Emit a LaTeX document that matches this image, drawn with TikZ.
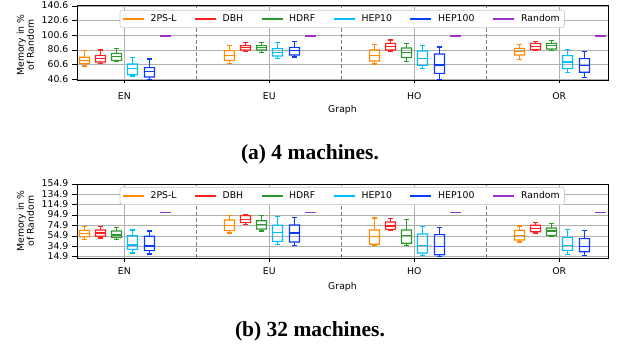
\documentclass[tikz,border=0pt]{standalone}
\usepackage{fontspec}
\setmainfont{DejaVu Sans}
\newfontfamily\capfont{Liberation Serif}
\definecolor{cPS}{HTML}{FF8C00}
\definecolor{cDBH}{HTML}{FF2020}
\definecolor{cHDRF}{HTML}{2A9A2A}
\definecolor{cHEPa}{HTML}{00BFFF}
\definecolor{cHEPb}{HTML}{0A3BFF}
\definecolor{cRND}{HTML}{9932CC}
\definecolor{gridc}{HTML}{B0B0B0}
\definecolor{sepc}{HTML}{808080}
\definecolor{legc}{HTML}{CCCCCC}
\tikzset{
  gridline/.style={draw=gridc, line width=0.8pt},
  sepline/.style={draw=sepc, line width=1pt, dash pattern=on 4pt off 2pt},
  ticklbl/.style={font=\fontsize{9.3}{11}\selectfont, inner sep=0pt, text=black},
  leglbl/.style={font=\fontsize{9.3}{11}\selectfont, inner sep=0pt, anchor=mid west, text=black},
  legframe/.style={draw=legc, fill=white, rounded corners=2.5pt, line width=0.6pt},
  captext/.style={font=\capfont\bfseries\fontsize{21.5}{24}\selectfont, inner sep=0pt, anchor=base, text=black},
}
\def\sY{0.735}\def\oY{237.66}
% #1 centre, #2 index, #3 wlo, #4 q1, #5 med, #6 q3, #7 whi, #8 colour
\newcommand\mybox[8]{%
  \pgfmathsetmacro\bxx{round(#1+(#2-2.5)*16.2)+0.5}%
  \pgfmathsetmacro\ya{\oY+\sY*#3}%
  \pgfmathsetmacro\yb{\oY+\sY*#4}%
  \pgfmathsetmacro\yc{\oY+\sY*#5}%
  \pgfmathsetmacro\yd{\oY+\sY*#6}%
  \pgfmathsetmacro\ye{\oY+\sY*#7}%
  \fill[fill=#8, even odd rule] ({\bxx-5.55},{\yb-0.55}) rectangle ({\bxx+5.55},{\yd+0.55})
       ({\bxx-4.45},{\yb+0.55}) rectangle ({\bxx+4.45},{\yd-0.55});
  \fill[fill=#8] ({\bxx-5},{\yc-0.55}) rectangle ({\bxx+5},{\yc+0.55});
  \fill[fill=#8] ({\bxx-0.55},\ya) rectangle ({\bxx+0.55},\yb);
  \fill[fill=#8] ({\bxx-0.55},\yd) rectangle ({\bxx+0.55},\ye);
  \fill[fill=#8] ({\bxx-2.6},{\ya-0.55}) rectangle ({\bxx+2.6},{\ya+0.55});
  \fill[fill=#8] ({\bxx-2.6},{\ye-0.55}) rectangle ({\bxx+2.6},{\ye+0.55});
}
\newcommand\myrnd[1]{%
  \pgfmathsetmacro\bxx{round(#1+2.5*16.2)+0.5}%
  \pgfmathsetmacro\yc{\oY+\sY*100}%
  \fill[fill=cRND] ({\bxx-5.5},{\yc-0.8}) rectangle ({\bxx+5.5},{\yc+0.8});
}
% #1 y of legend centre (pt), integer
\newcommand\mylegend[2]{%
  \draw[legframe] (120,#1-8.7) rectangle (564.5,#1+8.7);
  \fill[fill=cPS] (123,#1-1) rectangle (144,#1+1);
  \fill[fill=cDBH] (195,#1-1) rectangle (216,#1+1);
  \fill[fill=cHDRF] (262,#1-1) rectangle (283,#1+1);
  \fill[fill=cHEPa] (334,#1-1) rectangle (355,#1+1);
  \fill[fill=cHEPb] (410,#1-1) rectangle (431,#1+1);
  \fill[fill=cRND] (493,#1-1) rectangle (514,#1+1);
  \node[leglbl] (#2a) at (150.5,#1) {2PS-L};
  \node[leglbl] (#2b) at (222.5,#1) {DBH};
  \node[leglbl] (#2c) at (289,#1) {HDRF};
  \node[leglbl] (#2d) at (361.5,#1) {HEP10};
  \node[leglbl] (#2e) at (438,#1) {HEP100};
  \node[leglbl] (#2f) at (521,#1) {Random};
}
\begin{document}
\begin{tikzpicture}[x=1pt,y=1pt]
\useasboundingbox (0,0) rectangle (619,347);
\fill[white] (0,0) rectangle (619,347);

% ================= Plot (a) =================
\begin{scope}[y=0.735pt, shift={(0pt,237.66pt)}]
  \foreach \v in {40.6,60.6,80.6,100.6,120.6,140.6} {
    \draw[gridline] (77,\v) -- (608,\v);
    \draw[draw=black, line width=0.8pt] (72,\v) -- (77,\v);
    \node[ticklbl, anchor=mid east] (ya\v) at (68.5,\v) {\v};
  }
  \foreach \c in {124.5,269.5,414.5,559.5} {
    \draw[gridline] (\c,40) -- (\c,141);
    \draw[draw=black, line width=0.8pt] (\c,40) -- (\c,35.2);
  }
  \foreach \s in {196.8,341.8,486.8} \draw[sepline] (\s,40) -- (\s,141);
\end{scope}
\mylegend{328}{la}
\def\sY{0.735}\def\oY{237.66}
% EN
\mybox{124.3}{0}{59.0}{62.6}{66.2}{70.8}{79.8}{cPS}
\mybox{124.3}{1}{62.1}{64.4}{68.9}{73.5}{80.7}{cDBH}
\mybox{124.3}{2}{65.4}{66.7}{71.6}{76.2}{83.0}{cHDRF}
\mybox{124.3}{3}{45.4}{47.1}{55.8}{61.7}{70.8}{cHEPa}
\mybox{124.3}{4}{40.9}{44.0}{51.2}{56.7}{68.5}{cHEPb}
\myrnd{124.3}
% EU
\mybox{269.3}{0}{62.1}{66.7}{73.0}{79.8}{86.6}{cPS}
\mybox{269.3}{1}{78.4}{80.7}{83.9}{86.6}{90.7}{cDBH}
\mybox{269.3}{2}{77.6}{80.7}{83.9}{86.6}{90.7}{cHDRF}
\mybox{269.3}{3}{69.4}{72.6}{77.6}{82.5}{90.7}{cHEPa}
\mybox{269.3}{4}{71.2}{73.9}{79.8}{84.3}{92.1}{cHEPb}
\myrnd{269.3}
% HO
\mybox{414.3}{0}{61.7}{65.8}{73.0}{80.7}{88.4}{cPS}
\mybox{414.3}{1}{79.4}{80.7}{85.2}{89.8}{94.3}{cDBH}
\mybox{414.3}{2}{64.8}{70.3}{77.6}{83.5}{89.3}{cHDRF}
\mybox{414.3}{3}{55.3}{59.9}{69.4}{79.4}{86.6}{cHEPa}
\mybox{414.3}{4}{40.0}{49.0}{60.3}{75.3}{84.8}{cHEPb}
\myrnd{414.3}
% OR
\mybox{559.3}{0}{68.0}{73.9}{78.4}{83.0}{88.4}{cPS}
\mybox{559.3}{1}{79.8}{81.2}{85.8}{89.8}{92.5}{cDBH}
\mybox{559.3}{2}{80.3}{82.1}{86.6}{89.8}{93.4}{cHDRF}
\mybox{559.3}{3}{49.9}{55.3}{64.4}{73.0}{81.2}{cHEPa}
\mybox{559.3}{4}{43.1}{50.4}{59.9}{68.9}{78.4}{cHEPb}
\myrnd{559.3}
\begin{scope}[y=0.735pt, shift={(0pt,237.66pt)}]
  \draw[draw=black, line width=0.8pt] (77,40) rectangle (608,141);
\end{scope}
\node[ticklbl, anchor=base] (xa1) at (124.3,247.7) {EN};
\node[ticklbl, anchor=base] (xa2) at (269.3,247.7) {EU};
\node[ticklbl, anchor=base] (xa3) at (414.3,247.7) {HO};
\node[ticklbl, anchor=base] (xa4) at (559.3,247.7) {OR};
\node[ticklbl, anchor=base] (ga) at (342.5,234.5) {Graph};
\node[ticklbl, rotate=90, align=center, font=\fontsize{9.3}{10}\selectfont] (yla) at (25.5,302) {Memory in \%\\of Random};
\node[captext] (capa) at (310,187) {(a) 4 machines.};

% ================= Plot (b) =================
\begin{scope}[y=0.5193pt, shift={(0pt,82.56pt)}]
  \foreach \v in {14.9,34.9,54.9,74.9,94.9,114.9,134.9,154.9} {
    \draw[gridline] (77,\v) -- (608,\v);
    \draw[draw=black, line width=0.8pt] (72,\v) -- (77,\v);
    \node[ticklbl, anchor=mid east] (yb\v) at (68.5,\v) {\v};
  }
  \foreach \c in {124.5,269.5,414.5,559.5} {
    \draw[gridline] (\c,12) -- (\c,155);
    \draw[draw=black, line width=0.8pt] (\c,12) -- (\c,5.3);
  }
  \foreach \s in {196.8,341.8,486.8} \draw[sepline] (\s,12) -- (\s,155);
\end{scope}
\mylegend{151}{lb}
\def\sY{0.5193}\def\oY{82.56}
% EN
\mybox{124.3}{0}{48.4}{53.0}{59.2}{65.7}{73.4}{cPS}
\mybox{124.3}{1}{50.9}{54.2}{60.5}{66.3}{73.4}{cDBH}
\mybox{124.3}{2}{48.4}{51.5}{56.7}{64.4}{70.8}{cHDRF}
\mybox{124.3}{3}{22.0}{29.1}{37.4}{55.3}{66.3}{cHEPa}
\mybox{124.3}{4}{20.1}{26.5}{35.5}{54.2}{64.4}{cHEPb}
\myrnd{124.3}
% EU
\mybox{269.3}{0}{60.5}{65.0}{74.6}{85.6}{93.9}{cPS}
\mybox{269.3}{1}{77.3}{80.4}{86.9}{93.9}{96.5}{cDBH}
\mybox{269.3}{2}{64.4}{68.2}{77.3}{84.2}{93.9}{cHDRF}
\mybox{269.3}{3}{38.8}{44.5}{61.9}{75.4}{91.9}{cHEPa}
\mybox{269.3}{4}{36.8}{43.2}{60.5}{75.9}{90.0}{cHEPb}
\myrnd{269.3}
% HO
\mybox{414.3}{0}{36.8}{38.8}{53.4}{66.3}{89.4}{cPS}
\mybox{414.3}{1}{65.0}{67.6}{74.0}{81.7}{88.1}{cDBH}
\mybox{414.3}{2}{36.8}{40.7}{56.1}{66.3}{86.1}{cHDRF}
\mybox{414.3}{3}{16.8}{22.0}{36.1}{58.6}{73.4}{cHEPa}
\mybox{414.3}{4}{14.9}{18.7}{34.9}{57.3}{70.8}{cHEPb}
\myrnd{414.3}
% OR
\mybox{559.3}{0}{43.2}{47.0}{56.1}{65.7}{74.0}{cPS}
\mybox{559.3}{1}{60.5}{63.0}{68.8}{75.4}{81.1}{cDBH}
\mybox{559.3}{2}{53.4}{56.1}{64.4}{70.2}{79.2}{cHDRF}
\mybox{559.3}{3}{19.5}{27.2}{36.1}{52.2}{67.6}{cHEPa}
\mybox{559.3}{4}{16.8}{24.5}{34.9}{49.6}{65.0}{cHEPb}
\myrnd{559.3}
\begin{scope}[y=0.5193pt, shift={(0pt,82.56pt)}]
  \draw[draw=black, line width=0.8pt] (77,12) rectangle (608,155);
\end{scope}
\node[ticklbl, anchor=base] (xb1) at (124.3,72) {EN};
\node[ticklbl, anchor=base] (xb2) at (269.3,72) {EU};
\node[ticklbl, anchor=base] (xb3) at (414.3,72) {HO};
\node[ticklbl, anchor=base] (xb4) at (559.3,72) {OR};
\node[ticklbl, anchor=base] (gb) at (342.5,57) {Graph};
\node[ticklbl, rotate=90, align=center, font=\fontsize{9.3}{10}\selectfont] (ylb) at (25.5,126) {Memory in \%\\of Random};
\node[captext] (capb) at (310,10.3) {(b) 32 machines.};
\end{tikzpicture}
\end{document}
